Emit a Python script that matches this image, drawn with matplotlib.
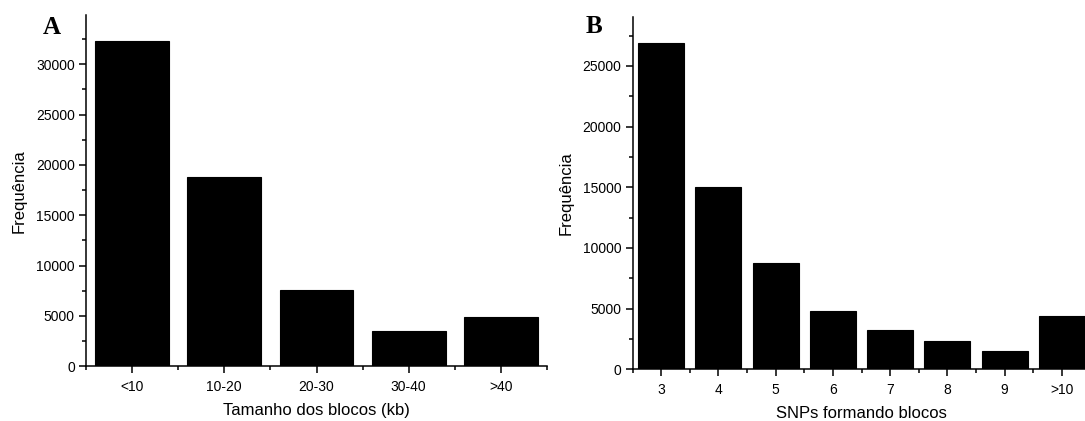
import matplotlib
matplotlib.use('Agg')
import matplotlib.pyplot as plt
import numpy as np
from matplotlib.ticker import MultipleLocator, FixedLocator

# panel A: block size
tam_labels = ['<10', '10-20', '20-30', '30-40', '>40']
tam_freq = [32300, 18850, 7580, 3550, 4910]

# panel B: SNPs per block
snp_labels = ['3', '4', '5', '6', '7', '8', '9', '>10']
snp_freq = [26850, 15000, 8730, 4780, 3260, 2360, 1530, 4420]

plt.rcParams['font.family'] = ['Liberation Sans', 'DejaVu Sans']
plt.rcParams['font.size'] = 10

W, H = 1085, 421
fig = plt.figure(figsize=(W / 100, H / 100), dpi=100)


def panel(rect, labels, freq, ytop, xlabel, letter, letter_xy):
    ax = fig.add_axes(rect)
    x = np.arange(len(labels))
    ax.bar(x, freq, width=0.8, color='black', edgecolor='black', linewidth=0.8)
    ax.set_xlim(-0.5, len(labels) - 0.5)
    ax.set_ylim(0, ytop)
    ax.spines['top'].set_visible(False)
    ax.spines['right'].set_visible(False)
    for s in ('left', 'bottom'):
        ax.spines[s].set_linewidth(1.1)
    ax.set_xticks(x)
    ax.set_xticklabels(labels)
    ax.xaxis.set_minor_locator(FixedLocator(np.arange(len(labels) + 1) - 0.5))
    ax.yaxis.set_major_locator(MultipleLocator(5000))
    ax.yaxis.set_minor_locator(MultipleLocator(2500))
    ax.tick_params(which='major', length=5, width=1.1, labelsize=10, pad=3)
    ax.tick_params(axis='x', which='major', pad=5)
    ax.tick_params(which='minor', length=3, width=1.1)
    ax.set_xlabel(xlabel, fontsize=12, va='center')
    ax.xaxis.set_label_coords(0.5, -0.125)
    ax.set_ylabel('Frequência', fontsize=12, va='center')
    ax.yaxis.set_label_coords(-0.146, 0.5)
    fig.text(letter_xy[0] / W, 1 - letter_xy[1] / H, letter, ha='center', va='baseline',
             fontsize=18, fontweight='bold', family=['Liberation Serif', 'DejaVu Serif'])
    return ax


panel([86 / W, (H - 366.3) / H, 461 / W, 351.3 / H], tam_labels, tam_freq, 34900,
      'Tamanho dos blocos (kb)', 'A', (52, 34))
panel([632.5 / W, (H - 369.3) / H, 458 / W, 352 / H], snp_labels, snp_freq, 29000,
      'SNPs formando blocos', 'B', (594, 33))

fig.savefig('out.png', dpi=100)
